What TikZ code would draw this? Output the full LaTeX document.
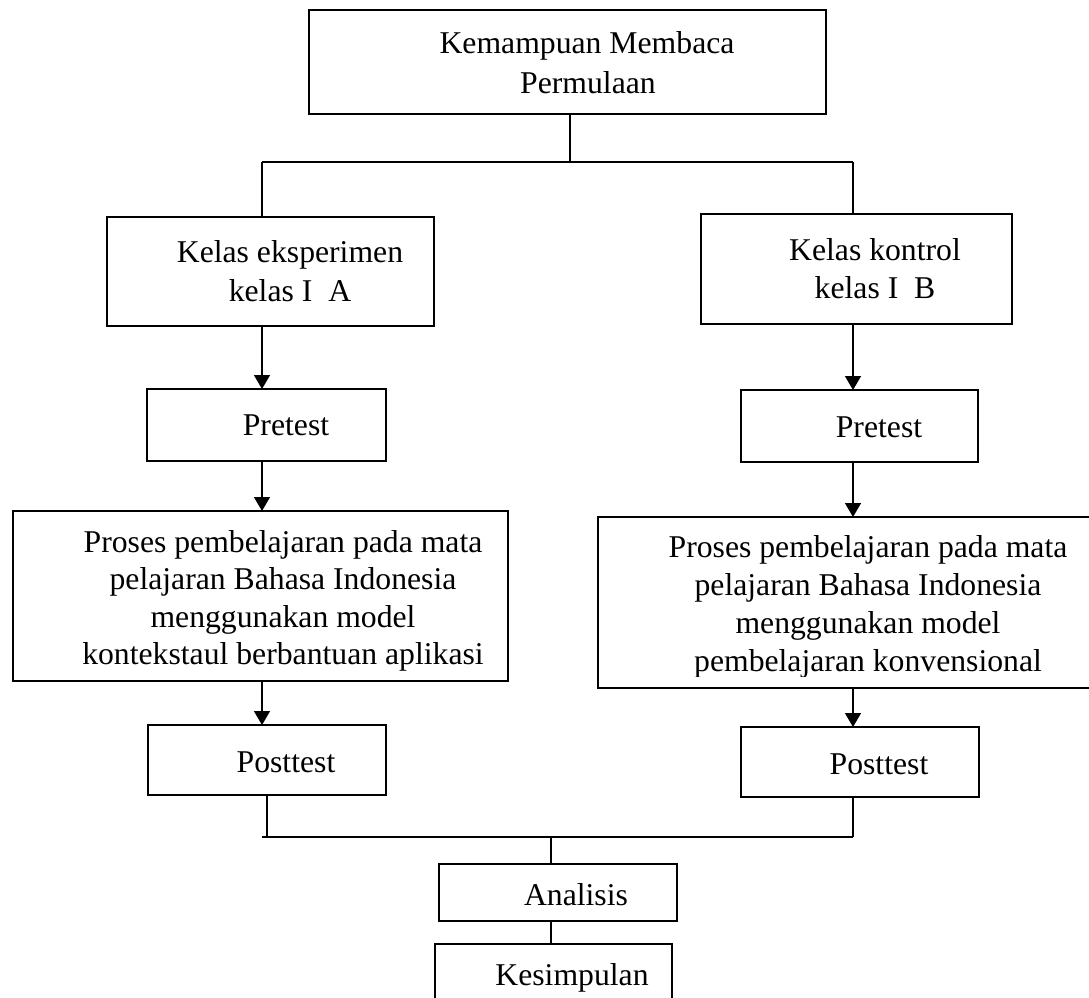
\documentclass[tikz,border=0pt]{standalone}
\usepackage{fontspec}
\setmainfont{Liberation Serif}
\usetikzlibrary{arrows.meta}
\begin{document}
\begin{tikzpicture}[x=1pt,y=-1pt,
  box/.style={draw, line width=2.8pt, inner sep=0pt, outer sep=0pt},
  txt/.style={font=\fontsize{31.7}{38}\selectfont, inner sep=0pt, anchor=base},
  conn/.style={line width=1.4pt},
  arr/.style={conn, -{Triangle[width=16pt,length=14pt]}}]
\useasboundingbox (0,0) rectangle (1089,998);
% boxes
\node[box, minimum width=517pt, minimum height=104pt] (top) at (567.5,62) {};
\node[box, minimum width=327pt, minimum height=109pt] (kelasA) at (270.5,271.5) {};
\node[box, minimum width=311pt, minimum height=110pt] (kelasB) at (856.5,269) {};
\node[box, minimum width=239pt, minimum height=72pt] (preA) at (266.5,425) {};
\node[box, minimum width=237pt, minimum height=72pt] (preB) at (859.5,426) {};
\node[box, minimum width=495pt, minimum height=170pt] (proA) at (260.5,596) {};
\node[box, minimum width=497pt, minimum height=171pt] (proB) at (846.5,602.5) {};
\node[box, minimum width=238pt, minimum height=70pt] (postA) at (267,760) {};
\node[box, minimum width=238pt, minimum height=70pt] (postB) at (860,762) {};
\node[box, minimum width=238pt, minimum height=57pt] (ana) at (558,892.5) {};
\node[box, minimum width=237pt, minimum height=66pt] (kes) at (553.5,977) {};
% texts
\node[txt] (t1) at (587,54) {Kemampuan Membaca};
\node[txt] (t2) at (588,93) {Permulaan};
\node[txt] (tA1) at (290,262) {Kelas eksperimen};
\node[txt] (tA2) at (290,301) {kelas I\ \ A};
\node[txt] (tB1) at (875,260) {Kelas kontrol};
\node[txt] (tB2) at (875,298) {kelas I\ \ B};
\node[txt] (pA) at (286,435) {Pretest};
\node[txt] (pB) at (879,437) {Pretest};
\node[txt] (rA1) at (283,552) {Proses pembelajaran pada mata};
\node[txt] (rA2) at (283,589) {pelajaran Bahasa Indonesia};
\node[txt] (rA3) at (283,627) {menggunakan model};
\node[txt] (rA4) at (283,664) {kontekstaul berbantuan aplikasi};
\node[txt] (rB1) at (868,557) {Proses pembelajaran pada mata};
\node[txt] (rB2) at (868,595) {pelajaran Bahasa Indonesia};
\node[txt] (rB3) at (868,633) {menggunakan model};
\begin{scope}
\clip (590,600) rectangle (1089,676);
\node[txt] (rB4) at (868,671) {pembelajaran konvensional};
\end{scope}
\node[txt] (qA) at (286,772) {Posttest};
\node[txt] (qB) at (879,774) {Posttest};
\node[txt] (an) at (576,905) {Analisis};
\node[txt] (ks) at (572,985) {Kesimpulan};
% column / junction coordinates
\coordinate (cA) at (262,0);
\coordinate (cA2) at (267,0);
\coordinate (cB) at (853,0);
\coordinate (cT) at (570,0);
\coordinate (cM) at (551,0);
\coordinate (j1) at (0,162);
\coordinate (j2) at (0,837);
% connectors
\draw[conn] (top.south -| cT) -- (cT |- j1);
\draw[conn] (cA |- j1) -- (cB |- j1);
\draw[conn] (cA |- j1) -- (kelasA.north -| cA);
\draw[conn] (cB |- j1) -- (kelasB.north -| cB);
\draw[arr] (kelasA.south -| cA) -- (preA.north -| cA);
\draw[arr] (kelasB.south -| cB) -- (preB.north -| cB);
\draw[arr] (preA.south -| cA) -- (proA.north -| cA);
\draw[arr] (preB.south -| cB) -- (proB.north -| cB);
\draw[arr] (proA.south -| cA) -- (postA.north -| cA);
\draw[arr] (proB.south -| cB) -- (postB.north -| cB);
\draw[conn] (postA.south -| cA2) -- (cA2 |- j2);
\draw[conn] (cA |- j2) -- (cB |- j2);
\draw[conn] (postB.south -| cB) -- (cB |- j2);
\draw[conn] (cM |- j2) -- (ana.north -| cM);
\draw[conn] (ana.south -| cM) -- (kes.north -| cM);
\end{tikzpicture}
\end{document}
